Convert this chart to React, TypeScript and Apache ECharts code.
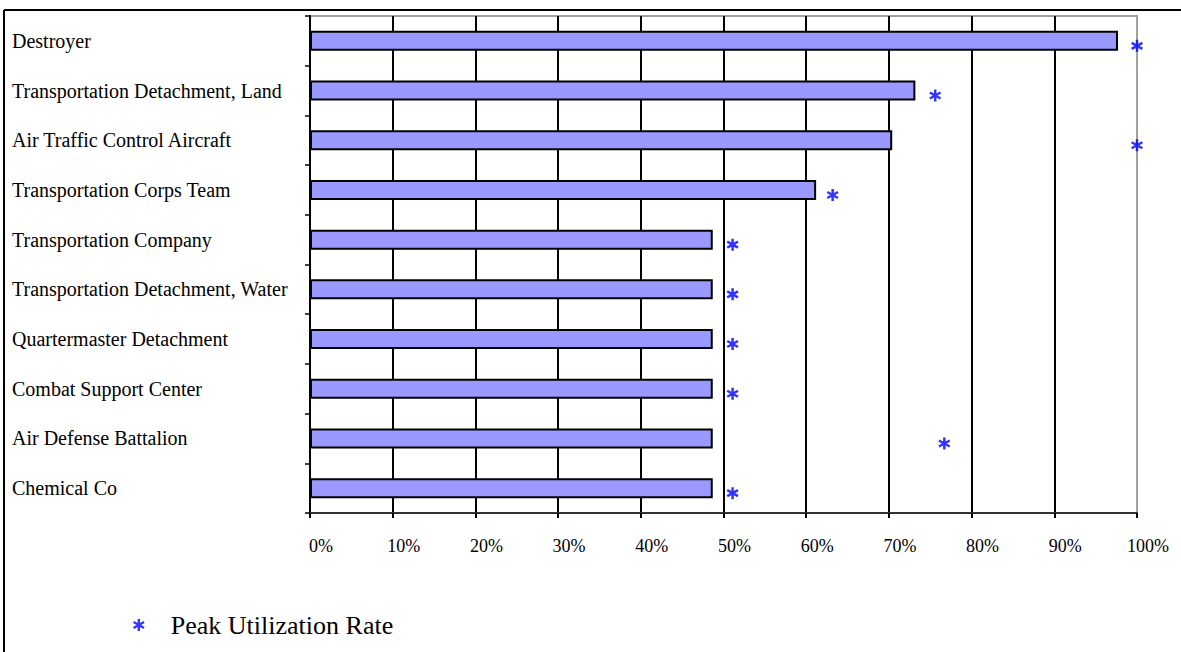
import React, { useEffect, useRef } from "react";
import * as echarts from "echarts";

const categories = [
  "Destroyer",
  "Transportation Detachment, Land",
  "Air Traffic Control Aircraft",
  "Transportation Corps Team",
  "Transportation Company",
  "Transportation Detachment, Water",
  "Quartermaster Detachment",
  "Combat Support Center",
  "Air Defense Battalion",
  "Chemical Co",
];
const utilization = [97.7, 73.2, 70.4, 61.2, 48.7, 48.7, 48.7, 48.7, 48.7, 48.7];
const peakUtilization = [100, 75.6, 100, 63.2, 51.1, 51.1, 51.1, 51.1, 76.7, 51.1];
const tickValues = [0, 10, 20, 30, 40, 50, 60, 70, 80, 90, 100];

const STAR =
  "path://M-0.2,1 L0.2,1 L0.2,-1 L-0.2,-1 Z M0.766,0.673 L0.966,0.327 L-0.766,-0.673 L-0.966,-0.327 Z M-0.966,0.327 L-0.766,0.673 L0.966,-0.327 L0.766,-0.673 Z";

export default function App() {
  const ref = useRef<HTMLDivElement>(null);
  useEffect(() => {
    document.body.style.margin = "0";
    const chart = echarts.init(ref.current!, null, { renderer: "svg" });
    const serif = "Liberation Serif";
    chart.setOption({
      animation: false,
      backgroundColor: "#ffffff",
      grid: {
        left: 310,
        right: 44,
        top: 16,
        bottom: 139,
        show: true,
        borderColor: "#a0a0a0",
        borderWidth: 2,
      },
      xAxis: {
        type: "value",
        min: tickValues[0],
        max: tickValues[tickValues.length - 1],
        interval: 10,
        axisLine: { show: true, lineStyle: { color: "#333", width: 2 } },
        axisTick: { show: true, length: 5, lineStyle: { color: "#000", width: 2 } },
        splitLine: {
          show: true,
          showMinLine: false,
          showMaxLine: false,
          lineStyle: { color: "#000", width: 2 },
        },
        axisLabel: {
          formatter: (v: number) => v + "%",
          fontFamily: serif,
          fontSize: 18,
          color: "#000",
          margin: 24,
          padding: [0, 0, 0, 22],
        },
      },
      yAxis: {
        type: "category",
        data: categories,
        inverse: true,
        axisLine: { show: true, lineStyle: { color: "#000", width: 2 } },
        axisTick: { show: true, length: 5, lineStyle: { color: "#000", width: 1.5 } },
        axisLabel: {
          align: "left",
          margin: 298,
          fontFamily: serif,
          fontSize: 20,
          color: "#000",
        },
      },
      legend: {
        data: [{ name: "Peak Utilization Rate", icon: STAR }],
        left: 128,
        top: 607,
        itemWidth: 12,
        itemHeight: 12,
        textStyle: {
          fontFamily: serif,
          fontSize: 26,
          color: "#000",
          padding: [0, 0, 0, 21],
        },
      },
      graphic: [
        {
          type: "line",
          shape: { x1: 4, y1: 10, x2: 1181, y2: 10 },
          style: { stroke: "#000", lineWidth: 2 },
        },
        {
          type: "line",
          shape: { x1: 4, y1: 10, x2: 4, y2: 652 },
          style: { stroke: "#000", lineWidth: 2 },
        },
      ],
      series: [
        {
          name: "Utilization",
          type: "bar",
          data: utilization,
          barWidth: 20,
          itemStyle: { color: "#9999ff", borderColor: "#000", borderWidth: 2 },
          z: 3,
        },
        {
          name: "Peak Utilization Rate",
          type: "scatter",
          data: peakUtilization,
          symbol: STAR,
          symbolSize: 12,
          symbolOffset: [0, 5],
          itemStyle: { color: "#0000ff" },
          z: 4,
        },
      ],
    });
    return () => chart.dispose();
  }, []);
  return <div ref={ref} style={{ width: 1181, height: 652 }} />;
}
